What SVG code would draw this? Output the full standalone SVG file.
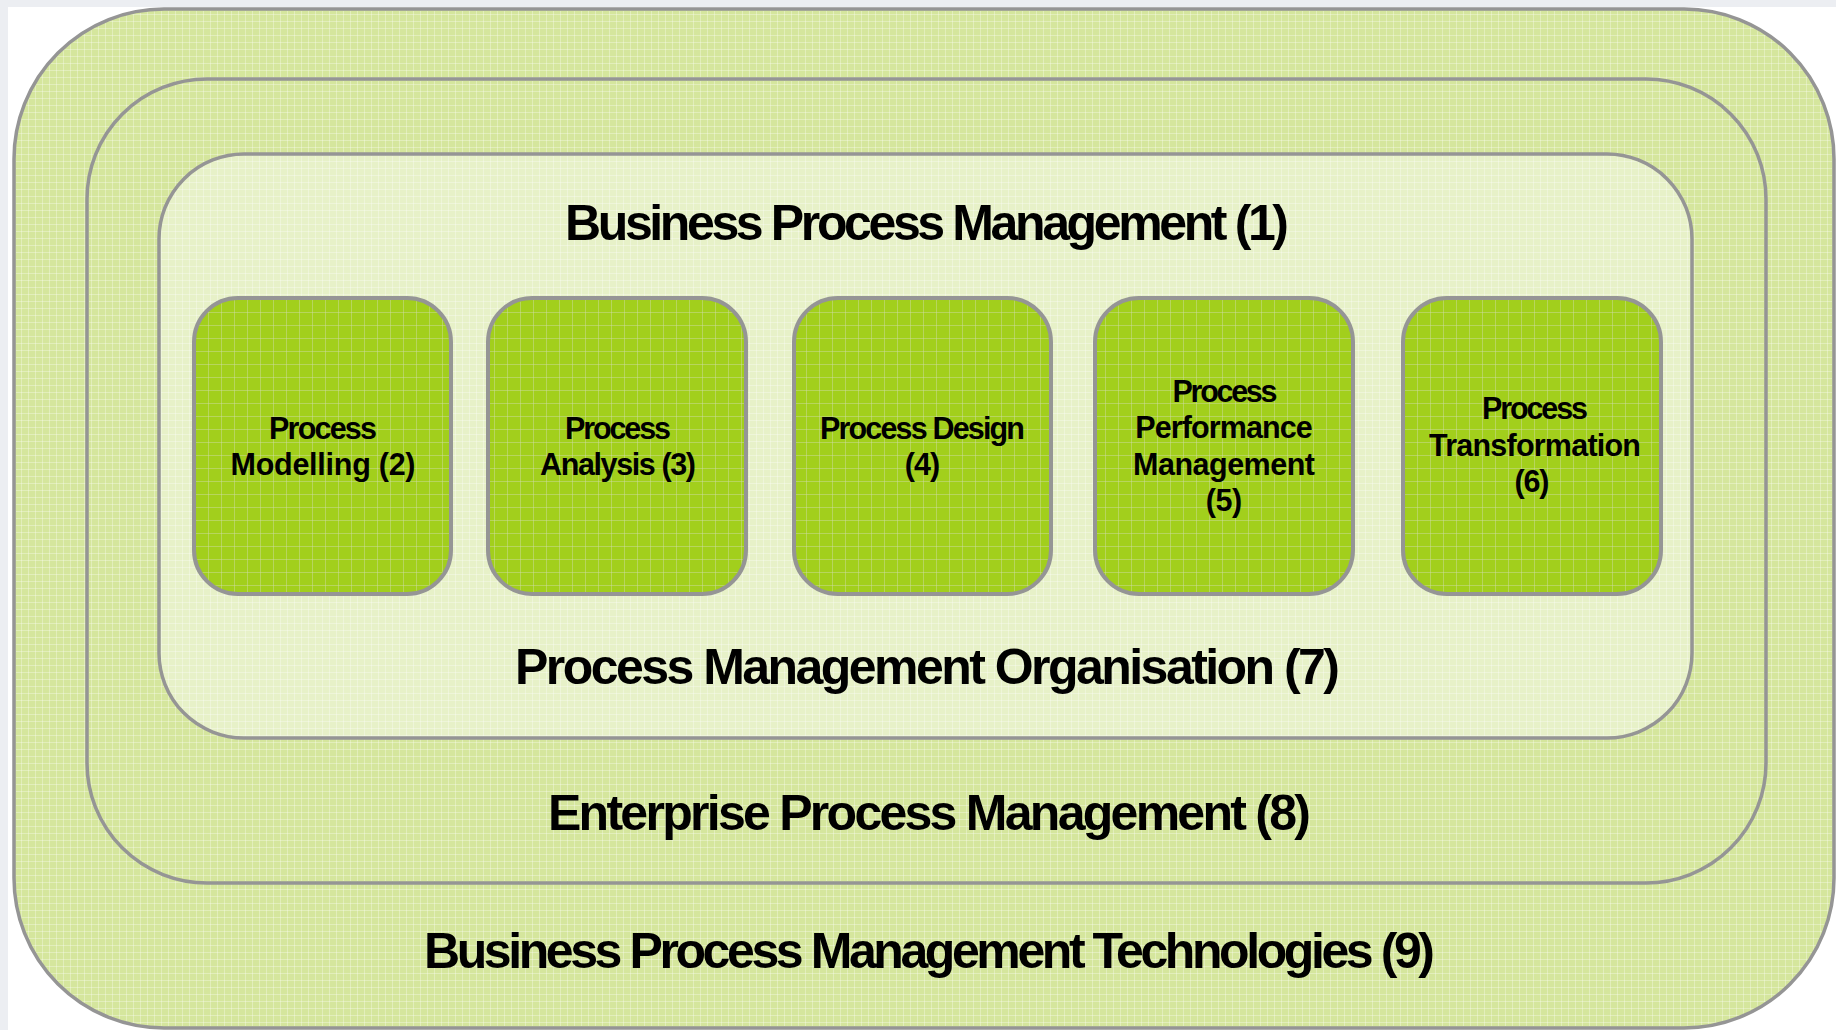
<svg xmlns="http://www.w3.org/2000/svg" width="1836" height="1030" viewBox="0 0 1836 1030">
<defs>
<pattern id="gridFine" width="7" height="7" patternUnits="userSpaceOnUse">
<path d="M0 0.5H7M0.5 0V7" stroke="#ffffff" stroke-opacity="0.3" stroke-width="1" fill="none"/>
</pattern>
<pattern id="gridBox" width="13" height="13" patternUnits="userSpaceOnUse">
<path d="M0 0.5H13M0.5 0V13" stroke="#d0dcae" stroke-opacity="0.45" stroke-width="1" fill="none"/>
</pattern>
</defs>
<style>
.frame{stroke:#959595;stroke-width:3.5}
.band{fill:#d5e69d}
.inner{fill:#e7f1c8}
.box{fill:#a2cf1c;stroke:#959595;stroke-width:4}
.gf{fill:url(#gridFine);stroke:none}
.gb{fill:url(#gridBox);stroke:none}
.title{font-family:"Liberation Sans",Arial,Helvetica,sans-serif;font-weight:bold;font-size:50px;fill:#000}
.label{font-family:"Liberation Sans",Arial,Helvetica,sans-serif;font-weight:bold;font-size:30.5px;fill:#000;text-anchor:middle}
</style>
<rect x="0" y="0" width="1836" height="1030" fill="#eceef2"/>
<rect x="8" y="7" width="1828" height="1023" fill="#ffffff"/>

<g id="bpm-technologies">
<rect class="band frame" x="14" y="9" width="1820" height="1019" rx="150" ry="150"/>
<rect class="gf" x="16" y="11" width="1816" height="1015" rx="148" ry="148"/>
<text class="title" x="424" y="968" textLength="1011" lengthAdjust="spacing">Business Process Management Technologies (9)</text>
</g>

<g id="enterprise-pm">
<rect class="band frame" x="87" y="79" width="1679" height="804" rx="120" ry="120"/>
<rect class="gf" x="89" y="81" width="1675" height="800" rx="118" ry="118"/>
<text class="title" x="548" y="830" textLength="763" lengthAdjust="spacing">Enterprise Process Management (8)</text>
</g>

<g id="bpm">
<rect class="inner frame" x="159" y="154" width="1533" height="584" rx="85" ry="85"/>
<rect class="gf" x="161" y="156" width="1529" height="580" rx="83" ry="83"/>
<text class="title" x="565" y="240" textLength="724" lengthAdjust="spacing">Business Process Management  (1)</text>
<text class="title" x="515" y="684" textLength="825" lengthAdjust="spacing">Process Management Organisation  (7)</text>
</g>

<g id="process-modelling">
<rect class="box" x="194" y="298" width="257" height="296" rx="44" ry="44"/>
<rect class="gb" x="196" y="300" width="253" height="292" rx="42" ry="42"/>
<text class="label" x="323" y="439" textLength="108" lengthAdjust="spacing">Process</text>
<text class="label" x="323" y="475" textLength="185" lengthAdjust="spacing">Modelling (2)</text>
</g>

<g id="process-analysis">
<rect class="box" x="488" y="298" width="258" height="296" rx="44" ry="44"/>
<rect class="gb" x="490" y="300" width="254" height="292" rx="42" ry="42"/>
<text class="label" x="618" y="439" textLength="106" lengthAdjust="spacing">Process</text>
<text class="label" x="618" y="475" textLength="156" lengthAdjust="spacing">Analysis (3)</text>
</g>

<g id="process-design">
<rect class="box" x="794" y="298" width="257" height="296" rx="44" ry="44"/>
<rect class="gb" x="796" y="300" width="253" height="292" rx="42" ry="42"/>
<text class="label" x="922.5" y="439" textLength="205" lengthAdjust="spacing">Process Design</text>
<text class="label" x="922.5" y="475" textLength="35.5" lengthAdjust="spacing">(4)</text>
</g>

<g id="process-performance-management">
<rect class="box" x="1095" y="298" width="258" height="296" rx="44" ry="44"/>
<rect class="gb" x="1097" y="300" width="254" height="292" rx="42" ry="42"/>
<text class="label" x="1225" y="402" textLength="105" lengthAdjust="spacing">Process</text>
<text class="label" x="1224" y="438" textLength="177.5" lengthAdjust="spacing">Performance</text>
<text class="label" x="1224" y="475" textLength="182" lengthAdjust="spacing">Management</text>
<text class="label" x="1224" y="511" textLength="36.5" lengthAdjust="spacing">(5)</text>
</g>

<g id="process-transformation">
<rect class="box" x="1403" y="298" width="258" height="296" rx="44" ry="44"/>
<rect class="gb" x="1405" y="300" width="254" height="292" rx="42" ry="42"/>
<text class="label" x="1535" y="419" textLength="106" lengthAdjust="spacing">Process</text>
<text class="label" x="1535" y="456" textLength="212" lengthAdjust="spacing">Transformation</text>
<text class="label" x="1532" y="492" textLength="35" lengthAdjust="spacing">(6)</text>
</g>

<g id="connectors"></g>
</svg>
